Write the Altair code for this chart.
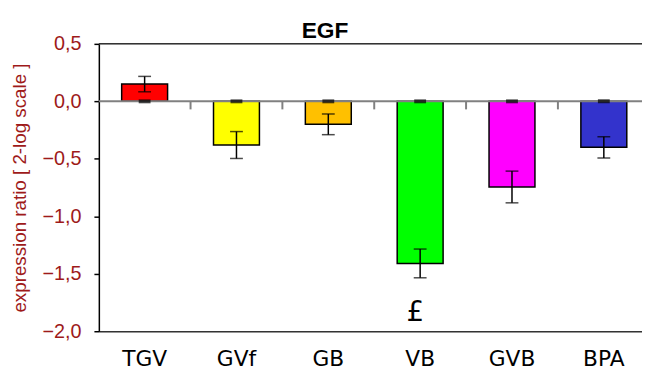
import altair as alt
import pandas as pd

title_text = "EGF"
categories = ["TGV", "GVf", "GB", "VB", "GVB", "BPA"]
values = [0.15, -0.38, -0.20, -1.41, -0.745, -0.40]
errors = [0.067, 0.117, 0.09, 0.125, 0.138, 0.092]
colors = ["#FF0000", "#FFFF00", "#FFC000", "#00FF00", "#FF00FF", "#3333CC"]
y_ticks = [-2.0, -1.5, -1.0, -0.5, 0.0, 0.5]
boundary_cats = ["TGV", "GVf", "GB", "VB", "GVB"]
marker_cat = "VB"
marker_text = "£"

df = pd.DataFrame({
    "cat": categories,
    "val": values,
    "lo": [v - e for v, e in zip(values, errors)],
    "hi": [v + e for v, e in zip(values, errors)],
    "zero": [0.0] * len(categories),
})
bdf = pd.DataFrame({"cat": boundary_cats, "y0": 0.0, "y1": -0.07})
mdf = pd.DataFrame({"cat": [marker_cat], "y": [-1.91], "t": [marker_text]})
tdf = pd.DataFrame({"y": [0.5], "t": [title_text]})

xscale = alt.Scale(domain=categories, paddingInner=0.5, paddingOuter=0.207, align=0.6)
yscale = alt.Scale(domain=[-2.0, 0.5], nice=False, zero=False)

x_enc = alt.X("cat:N", scale=xscale, sort=categories,
              axis=alt.Axis(title=None, labelAngle=0, ticks=False, domain=True,
                            domainColor="#333333", domainWidth=1.5,
                            labelFont="DejaVu Sans", labelFontSize=22, labelColor="#000000",
                            labelPadding=18))
y_enc = alt.Y("val:Q", scale=yscale,
              axis=alt.Axis(title="expression ratio [ 2-log scale ]", values=y_ticks,
                            labelExpr="replace(format(datum.value, '.1f'), '.', ',')",
                            grid=False, domainColor="#000000", domainWidth=1.5,
                            tickColor="#000000", tickSize=5, tickWidth=1.5,
                            labelFont="Liberation Sans", labelFontSize=20, labelColor="#9E1A1A",
                            labelPadding=13, titleFont="Liberation Sans", titleFontSize=19,
                            titleFontWeight="normal", titleColor="#9E1A1A", titlePadding=13))

base = alt.Chart(df)

bars = base.mark_bar(stroke="#000000", strokeWidth=1.5).encode(
    x=x_enc, y=y_enc, y2=alt.Y2("zero:Q"),
    color=alt.Color("cat:N", scale=alt.Scale(domain=categories, range=colors), legend=None),
)

zero_line = alt.Chart(pd.DataFrame({"y": [0.0]})).mark_rule(color="#808080", strokeWidth=2).encode(
    y=alt.Y("y:Q", scale=yscale))
top_line = alt.Chart(pd.DataFrame({"y": [0.5]})).mark_rule(color="#333333", strokeWidth=1.5).encode(
    y=alt.Y("y:Q", scale=yscale))

btick = alt.Chart(bdf).mark_rule(color="#808080", strokeWidth=2, xOffset=23.25).encode(
    x=alt.X("cat:N", scale=xscale, sort=categories, bandPosition=1),
    y=alt.Y("y0:Q", scale=yscale), y2="y1:Q")

err = base.mark_rule(color="#000000", strokeWidth=1.5).encode(
    x=alt.X("cat:N", scale=xscale, sort=categories),
    y=alt.Y("lo:Q", scale=yscale), y2="hi:Q")
cap_lo = base.mark_tick(color="#000000", size=13, thickness=1.5).encode(
    x=alt.X("cat:N", scale=xscale, sort=categories), y=alt.Y("lo:Q", scale=yscale))
cap_hi = base.mark_tick(color="#000000", size=13, thickness=1.5).encode(
    x=alt.X("cat:N", scale=xscale, sort=categories), y=alt.Y("hi:Q", scale=yscale))
cap_zero = base.mark_tick(color="#000000", size=12, thickness=4).encode(
    x=alt.X("cat:N", scale=xscale, sort=categories), y=alt.Y("zero:Q", scale=yscale))

marker = alt.Chart(mdf).mark_text(fontSize=28, font="DejaVu Sans", baseline="alphabetic",
                                  dx=-5, color="#000000").encode(
    x=alt.X("cat:N", scale=xscale, sort=categories), y=alt.Y("y:Q", scale=yscale), text="t:N")

title_mark = alt.Chart(tdf).mark_text(fontSize=23, font="Liberation Sans", fontWeight="bold",
                                      baseline="alphabetic", align="center", dy=-6,
                                      color="#000000").encode(
    x=alt.value(229), y=alt.Y("y:Q", scale=yscale), text="t:N")

chart = alt.layer(bars, zero_line, top_line, btick, err, cap_lo, cap_hi, cap_zero, marker,
                  title_mark).properties(
    width=550, height=291,
    autosize=alt.AutoSizeParams(type="none"),
    padding={"left": 92, "top": 34, "right": 0, "bottom": 42},
).configure_view(stroke=None).configure(background="#FFFFFF")

chart.save("out.html", embed_options={"renderer": "svg", "actions": False})
